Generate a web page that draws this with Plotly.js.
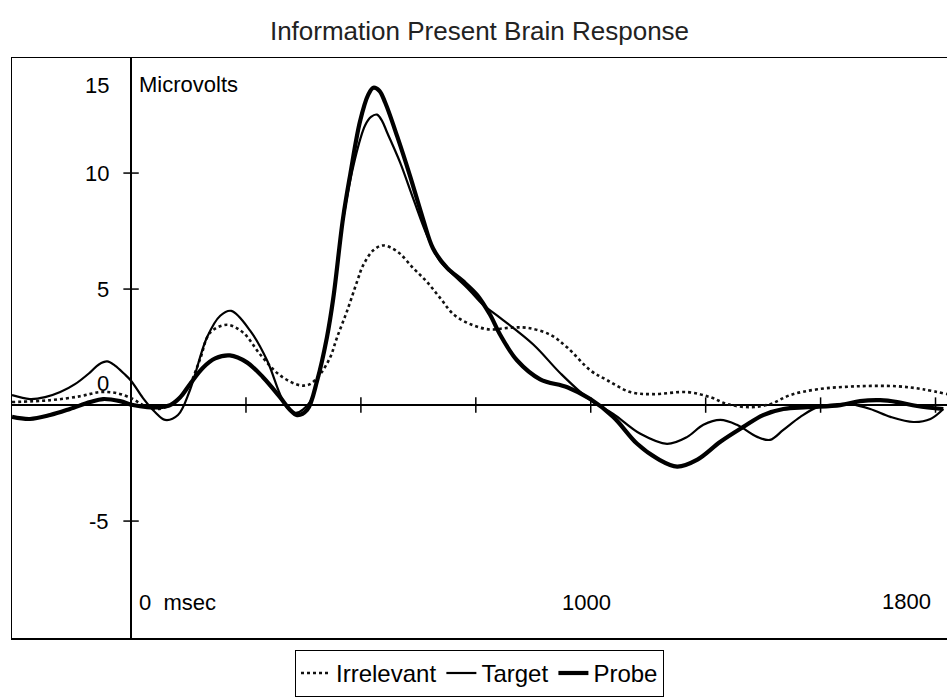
<!DOCTYPE html>
<html>
<head>
<meta charset="utf-8">
<script src="https://cdn.plot.ly/plotly-3.0.1.min.js"></script>
<style>html,body{margin:0;padding:0;background:#fff;}#chart{width:947px;height:697px;}</style>
</head>
<body>
<div id="chart"></div>
<script>
// ---- data (msec, microvolts) ----
const irrT = [-259,-176,-111,-67,-30,4,26,57,85,107,128,150,172,209,244,281,324,368,389,411,433,448,470,492,505,527,548,579,614,644,673,702,740,780,822,862,912,949,999,1036,1086,1136,1210,1260,1297,1347,1390,1434,1493,1580,1667,1723,1776];
const irrV = [0.13,0.21,0.38,0.56,0.51,0.26,0.0,-0.17,0.0,0.34,0.90,1.97,3.12,3.46,3.12,2.18,1.28,0.85,0.90,1.32,2.05,2.91,4.06,5.34,6.03,6.67,6.88,6.62,5.90,5.30,4.60,3.90,3.47,3.26,3.33,3.33,3.03,2.48,1.50,1.07,0.56,0.47,0.56,0.34,0.04,-0.09,0.04,0.43,0.68,0.81,0.81,0.68,0.47];

const tgtT = [-259,-220,-187,-154,-122,-89,-70,-52,-35,-15,0,26,52,74,102,128,165,194,218,259,296,324,339,359,389,411,433,461,487,509,522,535,546,557,585,614,644,672,709,738,766,803,875,935,999,1049,1108,1166,1210,1245,1282,1318,1362,1390,1419,1456,1493,1536,1565,1608,1652,1702,1739,1767];
const tgtV = [0.43,0.26,0.34,0.56,0.90,1.41,1.75,1.88,1.70,1.35,1.05,0.30,-0.30,-0.64,-0.43,0.64,2.91,3.85,4.06,3.21,1.92,0.47,-0.09,-0.34,0.13,1.50,3.63,7.95,10.6,12.05,12.42,12.52,12.25,11.75,10.47,8.89,7.31,6.20,5.47,4.91,4.32,3.76,2.61,1.35,0.21,-0.38,-1.24,-1.67,-1.37,-0.85,-0.64,-0.85,-1.37,-1.50,-1.07,-0.51,-0.09,0.04,0.04,-0.17,-0.51,-0.73,-0.60,-0.17];

const prbT = [-259,-220,-176,-133,-89,-61,-24,4,35,63,85,107,128,157,183,215,252,287,324,346,361,383,405,426,440,461,477,498,516,527,540,553,579,607,635,657,688,722,753,781,803,840,890,949,999,1049,1101,1145,1188,1232,1282,1332,1375,1419,1471,1543,1586,1630,1667,1710,1767];
const prbV = [-0.51,-0.60,-0.43,-0.17,0.13,0.26,0.17,0.0,-0.09,-0.09,0.0,0.34,0.90,1.62,2.01,2.14,1.84,1.20,0.34,-0.21,-0.43,-0.21,1.07,2.91,4.62,8.03,9.96,12.22,13.38,13.68,13.55,13.03,11.58,9.87,8.03,6.75,5.90,5.34,4.74,3.89,3.03,1.92,1.11,0.77,0.26,-0.51,-1.67,-2.31,-2.65,-2.35,-1.58,-0.94,-0.43,-0.17,-0.09,0.0,0.17,0.21,0.13,-0.04,-0.17];

const seriesNames = ['Irrelevant','Target','Probe'];
const xTickVals = [250,500,750,1000,1250,1500,1750];
const yTickVals = [10,5,-5];
const yLabelVals = [10,5,0,-5];
const yLabelText = ['10','5','0','-5'];
const topLabelText = '15';
const titleText = 'Information Present Brain Response';
const yUnitText = 'Microvolts';
const xLabelText = ['0  msec','1000','1800'];

// ---- styling ----
const FONT = 'Arial, "Liberation Sans", sans-serif';
const LFS = 22;
const txt = {family:FONT, size:LFS, color:'#000'};

const traces = [
  {x: irrT, y: irrV, name: seriesNames[0], type:'scatter', mode:'lines',
   line:{color:'#111', width:2.6, dash:'dot', shape:'spline', smoothing:1}},
  {x: tgtT, y: tgtV, name: seriesNames[1], type:'scatter', mode:'lines',
   line:{color:'#000', width:2.2, shape:'spline', smoothing:1}},
  {x: prbT, y: prbV, name: seriesNames[2], type:'scatter', mode:'lines',
   line:{color:'#000', width:4.2, shape:'spline', smoothing:1}},
  {x: xTickVals, y: xTickVals.map(()=>0), type:'scatter', mode:'markers', showlegend:false, hoverinfo:'skip',
   marker:{symbol:'line-ns-open', size:11, color:'#000', line:{color:'#000', width:1.5}}},
  {x: yTickVals.map(()=>0), y: yTickVals, type:'scatter', mode:'markers', showlegend:false, hoverinfo:'skip',
   marker:{symbol:'line-ew-open', size:11, color:'#000', line:{color:'#000', width:1.5}}}
];

const yShifts = {0:22};
const annotations = [];
yLabelVals.forEach((v,i)=>{
  annotations.push({x:0, y:v, xref:'x', yref:'y', text:yLabelText[i], showarrow:false,
    xanchor:'right', yanchor:'middle', xshift:-20, yshift:(yShifts[v]||0), font:txt});
});
// top-of-axis labels (15 / Microvolts), placed just below the frame top
annotations.push({x:0, y:1, xref:'x', yref:'paper', text:topLabelText, showarrow:false,
  xanchor:'right', yanchor:'middle', xshift:-20, yshift:-27, font:txt});
annotations.push({x:0, y:1, xref:'x', yref:'paper', text:yUnitText, showarrow:false,
  xanchor:'left', yanchor:'middle', xshift:6, yshift:-26, font:txt});
// bottom labels
annotations.push({x:0, y:-8.5, xref:'x', yref:'y', text:xLabelText[0], showarrow:false,
  xanchor:'left', yanchor:'middle', xshift:6, font:txt});
annotations.push({x:1000, y:-8.5, xref:'x', yref:'y', text:xLabelText[1], showarrow:false,
  xanchor:'center', yanchor:'middle', xshift:-4, font:txt});
annotations.push({x:(906-12)/935, y:-8.45, xref:'paper', yref:'y', text:xLabelText[2], showarrow:false,
  xanchor:'center', yanchor:'middle', font:txt});

const layout = {
  width:947, height:697,
  margin:{l:12, r:0, t:58, b:54},
  paper_bgcolor:'#fff', plot_bgcolor:'#fff',
  title:{text:titleText, x:0.5, xref:'paper', xanchor:'center', y:1-31/697, yref:'container', yanchor:'middle',
    font:{family:FONT, size:26, color:'#222'}},
  xaxis:{range:[-259,1775], showgrid:false, zeroline:true, zerolinecolor:'#000', zerolinewidth:1.5,
    showline:true, linecolor:'#000', linewidth:1.5, mirror:true, showticklabels:false, ticks:'', fixedrange:true},
  yaxis:{range:[-10.04,14.96], showgrid:false, zeroline:true, zerolinecolor:'#000', zerolinewidth:1.5,
    showline:true, linecolor:'#000', linewidth:1.5, showticklabels:false, ticks:'', fixedrange:true},
  showlegend:true,
  legend:{orientation:'h', x:0.5, xanchor:'center', y:-12/585, yanchor:'top', yref:'paper',
    bordercolor:'#000', borderwidth:1, bgcolor:'#fff', font:{family:FONT, size:24, color:'#000'}},
  annotations: annotations
};

Plotly.newPlot('chart', traces, layout, {displayModeBar:false, staticPlot:true});
</script>
</body>
</html>
